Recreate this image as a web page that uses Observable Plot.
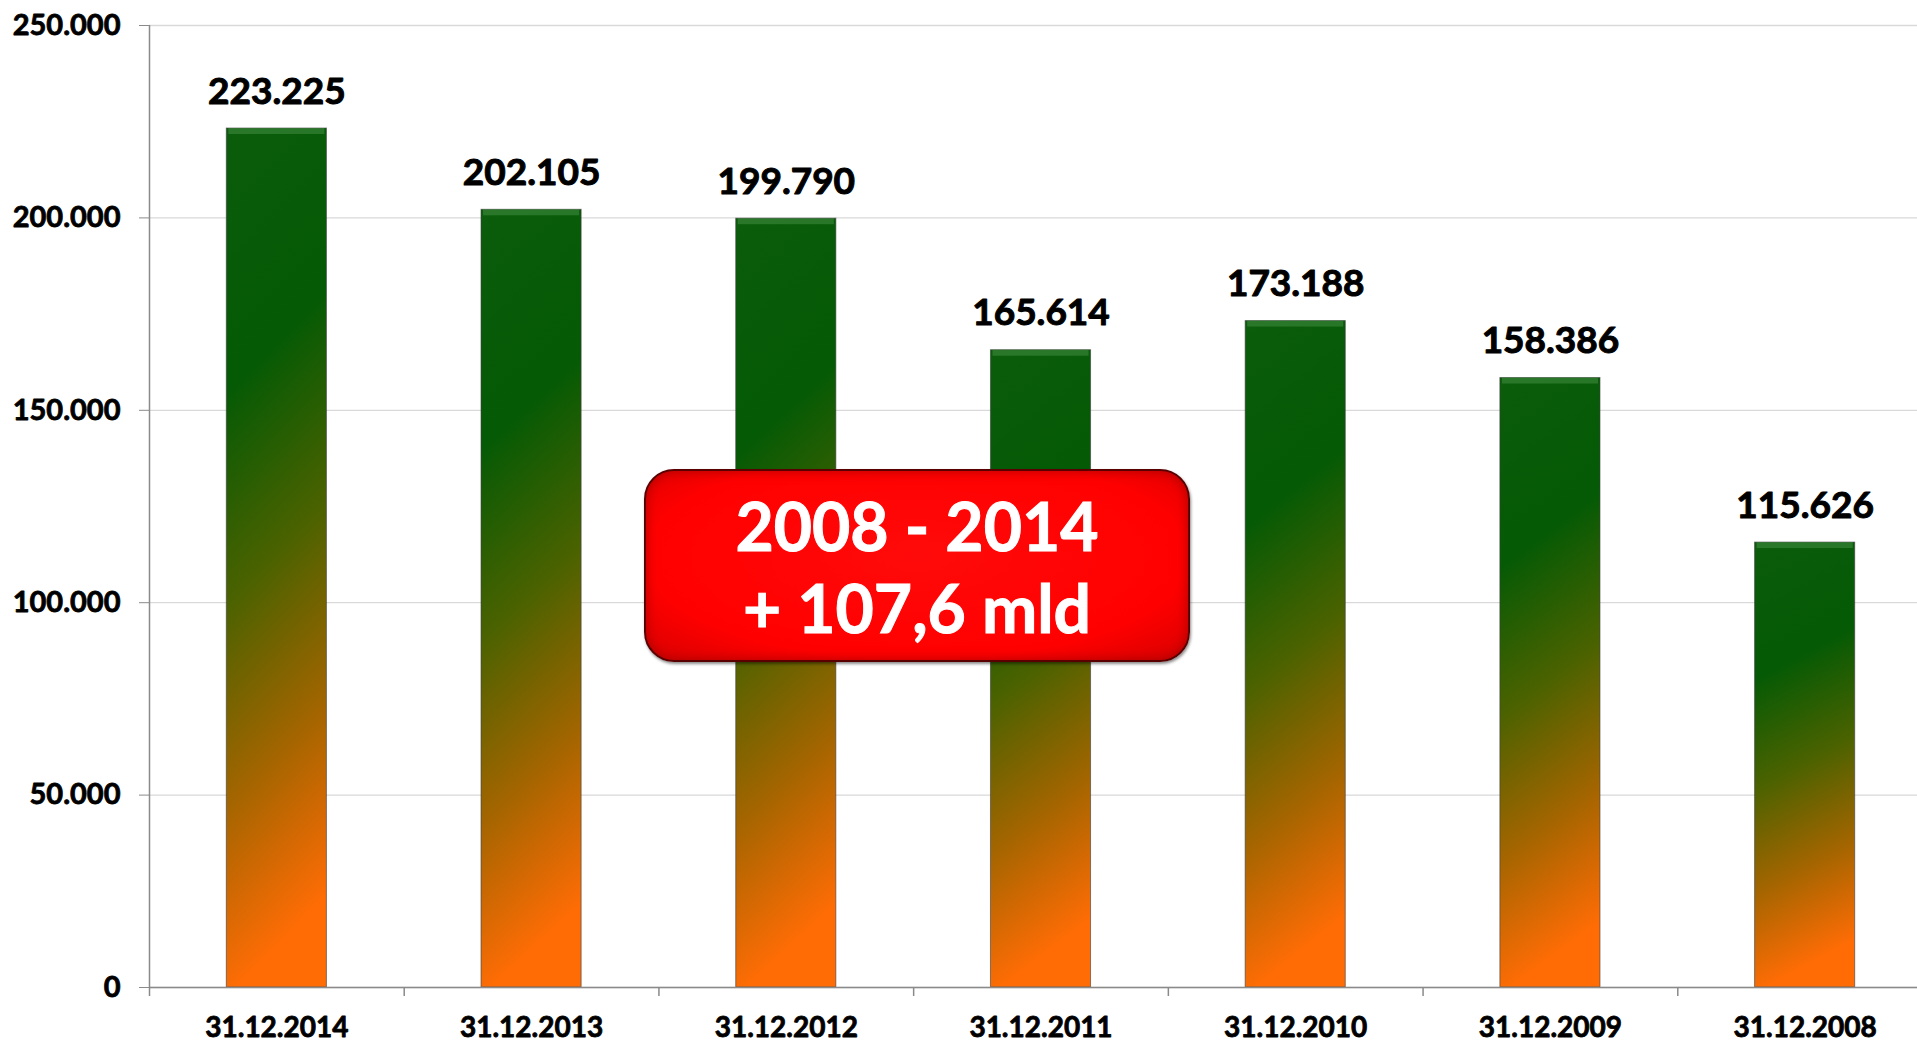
<!DOCTYPE html>
<html><head><meta charset="utf-8">
<script src="https://cdn.jsdelivr.net/npm/d3@7"></script>
<script src="https://cdn.jsdelivr.net/npm/@observablehq/plot@0.6"></script>
<style>
html,body{margin:0;padding:0;background:#fff}
#wrap{position:relative;width:1917px;height:1042px;overflow:hidden;font-family:Lato,"Open Sans",sans-serif}
#note{position:absolute;left:644px;top:469px;width:546px;height:193px;box-sizing:border-box;
  border:2px solid #5a0000;border-radius:30px;
  background:radial-gradient(ellipse at 50% 45%, #ff0a0a 0%, #ff0000 70%, #d80000 100%);
  box-shadow:1px 2px 3px rgba(0,0,0,0.45), inset 0 0 12px rgba(120,0,0,0.55);
  color:#fff;font-family:Lato,sans-serif;font-weight:bold;font-size:66px;line-height:82px;
  -webkit-text-stroke:1px #fff;
  text-align:center;padding-top:14px}
</style></head><body><div id="wrap"></div>
<script>
const dates = ["31.12.2014","31.12.2013","31.12.2012","31.12.2011","31.12.2010","31.12.2009","31.12.2008"];
const values = [223225, 202105, 199790, 165614, 173188, 158386, 115626];
const yTicks = [0, 50000, 100000, 150000, 200000, 250000];
const noteLines = ["2008 - 2014", "+ 107,6 mld"];

const data = dates.map((d, i) => ({date: d, value: values[i]}));
const locale = d3.formatLocale({decimal: ",", thousands: ".", grouping: [3], currency: ["", ""]});
const fmt = locale.format(",d");

const xRange = [149, 1932];
const step = (xRange[1] - xRange[0]) / dates.length;

const chart = Plot.plot({
  width: 1917, height: 1042,
  marginLeft: 149, marginRight: 0, marginTop: 25, marginBottom: 55,
  style: {fontFamily: "Lato, 'Open Sans', sans-serif", color: "#000", background: "#fff"},
  x: {domain: dates, range: xRange, paddingInner: 0.607, paddingOuter: 0.3035, align: 0.5, round: false},
  y: {domain: [0, 250000]},
  marks: [
    Plot.gridY(yTicks, {stroke: "#d9d9d9", strokeOpacity: 1, strokeWidth: 1.3}),
    Plot.barY(data, {x: "date", y: "value", fill: "url(#barGrad)", stroke: "#3a3a3a", strokeOpacity: 0.6, strokeWidth: 1}),
    Plot.barY(data, {x: "date", y1: "value", y2: "value", insetBottom: -6, insetLeft: 2, insetRight: 2, fill: "#4f9a4f", fillOpacity: 0.45}),
    Plot.ruleY([0], {stroke: "#8a8a8a", strokeWidth: 1.5}),
    Plot.ruleX([dates[0]], {dx: -step / 2, y1: 0, y2: 250000, stroke: "#8a8a8a", strokeWidth: 1.5}),
    Plot.ruleX(dates, {dx: -step / 2, y1: 0, y2: 0, insetBottom: -9, stroke: "#8a8a8a", strokeWidth: 1.5}),
    Plot.axisY(yTicks, {tickSize: 10, tickPadding: 19, stroke: "#8a8a8a", fill: "#000", textStroke: "#000", textStrokeWidth: 0.8, textStrokeOpacity: 1, fontSize: 29, fontWeight: "bold", tickFormat: fmt, label: null}),
    Plot.axisX({tickSize: 0, tickPadding: 30, fontSize: 28, fontWeight: "bold", fill: "#000", textStroke: "#000", textStrokeWidth: 0.8, textStrokeOpacity: 1, label: null}),
    Plot.text(data, {x: "date", y: "value", text: d => fmt(d.value), dy: -25, lineAnchor: "bottom", fontSize: 37, fontWeight: "bold", fill: "#000", stroke: "#000", strokeWidth: 1})
  ]
});

d3.select(chart).insert("defs", ":first-child").html(`
  <linearGradient id="barGrad" x1="0" y1="0" x2="0.12" y2="1">
    <stop offset="0" stop-color="#0b5c0b"/>
    <stop offset="0.3" stop-color="#045a05"/>
    <stop offset="0.55" stop-color="#4c6200"/>
    <stop offset="0.78" stop-color="#a46500"/>
    <stop offset="1" stop-color="#ff6c05"/>
  </linearGradient>`);

const wrap = document.getElementById("wrap");
wrap.appendChild(chart);
const note = document.createElement("div");
note.id = "note";
note.innerHTML = noteLines.map(t => `<div>${t}</div>`).join("");
wrap.appendChild(note);
</script>
</body></html>
